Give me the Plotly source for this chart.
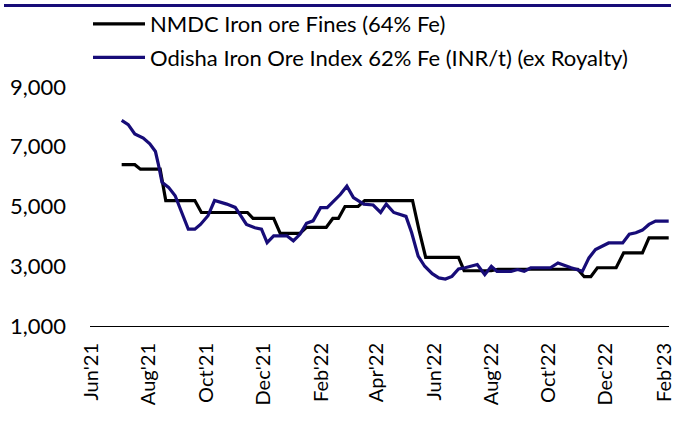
import plotly.graph_objects as go

# NMDC Iron ore Fines (64% Fe), INR/t
nmdc_dates = [
    "2021-07-03", "2021-07-17", "2021-07-23", "2021-08-13", "2021-08-19",
    "2021-09-19", "2021-09-26", "2021-11-14", "2021-11-20", "2021-12-12",
    "2021-12-19", "2022-01-09", "2022-01-16", "2022-02-06", "2022-02-13",
    "2022-02-19", "2022-02-26", "2022-03-12", "2022-03-19", "2022-05-09",
    "2022-05-16", "2022-05-23", "2022-06-27", "2022-07-03", "2022-08-01",
    "2022-08-08", "2022-11-01", "2022-11-08", "2022-11-15", "2022-11-22",
    "2022-12-12", "2022-12-20", "2023-01-09", "2023-01-16", "2023-02-06",
]
nmdc_values = [
    6400, 6400, 6250, 6250, 5200,
    5200, 4800, 4800, 4600, 4600,
    4100, 4100, 4300, 4300, 4600,
    4600, 5000, 5000, 5200, 5200,
    4200, 3300, 3300, 2850, 2850,
    2900, 2900, 2650, 2650, 2950,
    2950, 3450, 3450, 3950, 3950,
]

# Odisha Iron Ore Index 62% Fe (INR/t) (ex Royalty)
odisha_dates = [
    "2021-07-03", "2021-07-10", "2021-07-17", "2021-07-26", "2021-08-02",
    "2021-08-08", "2021-08-11", "2021-08-15", "2021-08-22", "2021-08-29",
    "2021-09-05", "2021-09-12", "2021-09-19", "2021-09-25", "2021-10-03",
    "2021-10-10", "2021-10-23", "2021-11-01", "2021-11-06", "2021-11-13",
    "2021-11-22", "2021-11-29", "2021-12-05", "2021-12-12", "2021-12-26",
    "2022-01-02", "2022-01-09", "2022-01-16", "2022-01-23", "2022-01-31",
    "2022-02-07", "2022-02-21", "2022-02-28", "2022-03-07", "2022-03-18",
    "2022-03-28", "2022-04-05", "2022-04-11", "2022-04-19", "2022-04-26",
    "2022-05-02", "2022-05-08", "2022-05-15", "2022-05-22", "2022-05-30",
    "2022-06-06", "2022-06-13", "2022-06-20", "2022-06-27", "2022-07-04",
    "2022-07-17", "2022-07-25", "2022-08-01", "2022-08-07", "2022-08-22",
    "2022-08-29", "2022-09-05", "2022-09-12", "2022-10-03", "2022-10-11",
    "2022-10-18", "2022-10-25", "2022-11-06", "2022-11-13", "2022-11-20",
    "2022-11-27", "2022-12-04", "2022-12-19", "2022-12-26", "2023-01-02",
    "2023-01-09", "2023-01-16", "2023-01-23", "2023-02-06",
]
odisha_values = [
    7880, 7740, 7430, 7290, 7100,
    6840, 6430, 5810, 5640, 5360,
    4800, 4240, 4240, 4400, 4690,
    5200, 5080, 4970, 4740, 4400,
    4290, 4240, 3790, 4020, 4020,
    3850, 4070, 4440, 4520, 4960,
    4960, 5400, 5680, 5300, 5080,
    5050, 4800, 5080, 4800, 4740,
    4670, 4130, 3340, 3000, 2750,
    2610, 2570, 2660, 2910, 2950,
    3060, 2720, 3000, 2830, 2830,
    2890, 2830, 2950, 2950, 3110,
    3020, 2950, 2830, 3280, 3560,
    3670, 3780, 3780, 4070, 4120,
    4210, 4400, 4510, 4510,
]

tick_dates = [
    "2021-06-01", "2021-08-01", "2021-10-01", "2021-12-01", "2022-02-01",
    "2022-04-01", "2022-06-01", "2022-08-01", "2022-10-01", "2022-12-01",
    "2023-02-01",
]
tick_labels = [
    "Jun'21", "Aug'21", "Oct'21", "Dec'21", "Feb'22", "Apr'22",
    "Jun'22", "Aug'22", "Oct'22", "Dec'22", "Feb'23",
]
y_ticks = [1000, 3000, 5000, 7000, 9000]

NAVY = "#170c78"
FONT = "Lato, sans-serif"

fig = go.Figure()
fig.add_trace(
    go.Scatter(
        x=nmdc_dates,
        y=nmdc_values,
        name="NMDC Iron ore Fines (64% Fe)",
        legendgroup="nmdc",
        mode="lines",
        line=dict(color="#000000", width=3.2),
    )
)
fig.add_trace(
    go.Scatter(
        x=odisha_dates,
        y=odisha_values,
        name="Odisha Iron Ore Index 62% Fe (INR/t) (ex Royalty)",
        legendgroup="odisha",
        mode="lines",
        line=dict(color=NAVY, width=3.2),
    )
)

fig.update_layout(
    width=675,
    height=423,
    paper_bgcolor="white",
    plot_bgcolor="white",
    font=dict(family=FONT, color="#000000", size=22),
    margin=dict(l=90, r=6, t=87, b=97, autoexpand=False),
    showlegend=True,
    legend=dict(
        xref="container",
        yref="container",
        x=88 / 675,
        y=1 - 3 / 423,
        xanchor="left",
        yanchor="top",
        bgcolor="rgba(0,0,0,0)",
        font=dict(size=22),
        itemwidth=52,
        tracegroupgap=2,
    ),
)
fig.update_xaxes(
    type="date",
    range=["2021-05-30 06:00", "2023-02-06 08:00"],
    tickvals=tick_dates,
    ticktext=tick_labels,
    tickangle=-90,
    tickfont=dict(size=20),
    ticklabeloverflow="allow",
    ticklabelstandoff=8,
    showgrid=False,
    zeroline=False,
    showline=True,
    linecolor="#000000",
    linewidth=1,
    ticks="",
)
fig.update_yaxes(
    range=[1000, 9000],
    tickvals=y_ticks,
    tickformat=",d",
    tickfont=dict(size=22),
    showgrid=False,
    zeroline=False,
    showline=False,
    ticks="",
    ticklabelstandoff=23,
)
# Navy rule across the top of the exhibit
fig.add_shape(
    type="line",
    xref="paper",
    yref="paper",
    x0=(4 - 90) / 579,
    x1=(671 - 90) / 579,
    y0=(326 - 5.5) / 239,
    y1=(326 - 5.5) / 239,
    line=dict(color=NAVY, width=3),
)

# The page's default 8px body margin would push the 675x423 figure off-screen.
fig.write_html(
    "out.html",
    config={"displayModeBar": False},
    post_script="document.body.style.margin = '0';",
)
